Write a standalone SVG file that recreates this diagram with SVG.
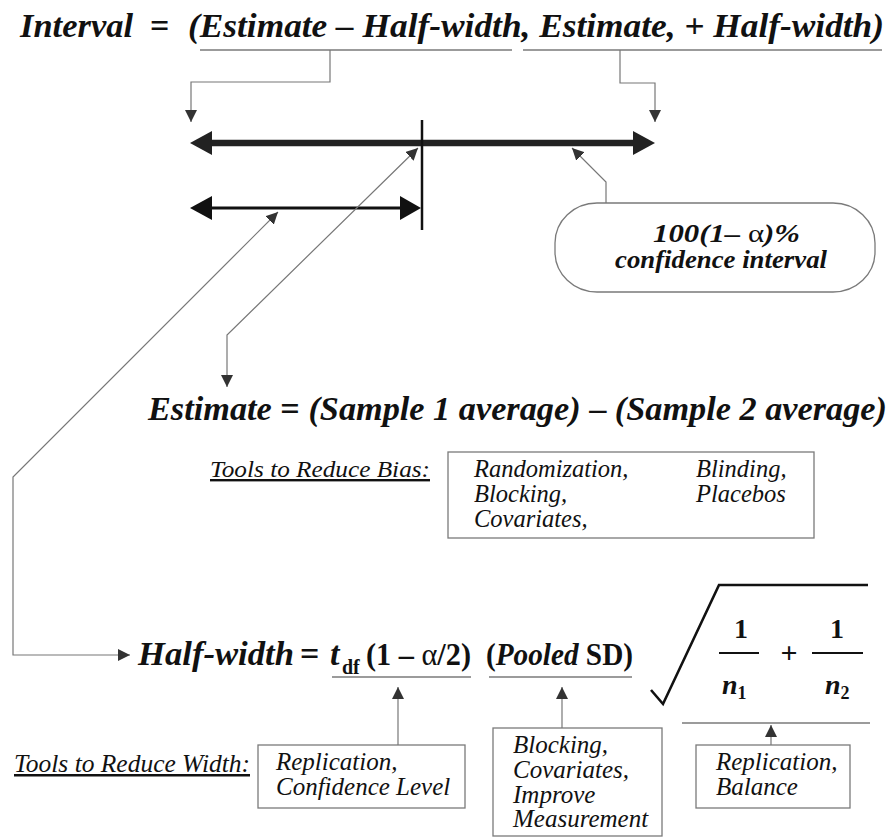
<svg xmlns="http://www.w3.org/2000/svg" width="892" height="837" viewBox="0 0 892 837">
<defs>
<style>
.t{font-family:"Liberation Serif","Times New Roman",serif;fill:#111}
.bi{font-weight:bold;font-style:italic}
.b{font-weight:bold;font-style:normal}
.i{font-style:italic;font-weight:normal}
.n{font-style:normal;font-weight:normal}
.ul{stroke:#7a7a7a;stroke-width:1.3;fill:none}
.box{stroke:#7a7a7a;stroke-width:1.3;fill:none}
.con{stroke:#777;stroke-width:1.2;fill:none}
</style>
<marker id="ah" viewBox="0 0 10 10" refX="10" refY="5" markerWidth="12" markerHeight="12" markerUnits="userSpaceOnUse" orient="auto-start-reverse">
<path d="M0,0 L10,5 L0,10 z" fill="#333"/>
</marker>
</defs>
<rect width="892" height="837" fill="#fff"/>

<g id="title">
<text class="t bi" x="20" y="37" font-size="34" textLength="113" lengthAdjust="spacingAndGlyphs">Interval</text>
<text class="t b" x="150" y="37" font-size="34">=</text>
<text class="t bi" x="188" y="37" font-size="34" textLength="696" lengthAdjust="spacingAndGlyphs">(Estimate – Half-width, Estimate, + Half-width)</text>
<line class="ul" x1="200" y1="50" x2="512" y2="50"/>
<line class="ul" x1="523" y1="50" x2="882" y2="50"/>
</g>

<g id="interval-arrows">
<line x1="208" y1="143" x2="637" y2="143" stroke="#222" stroke-width="6.5"/>
<polygon points="190,143 212,131 212,155" fill="#222"/>
<polygon points="655,143 633,131 633,155" fill="#222"/>
<line x1="422" y1="120" x2="422" y2="230" stroke="#111" stroke-width="2.5"/>
<line x1="205" y1="208" x2="405" y2="208" stroke="#111" stroke-width="2.8"/>
<polygon points="190,208 212,196 212,220" fill="#111"/>
<polygon points="421,208 400,196 400,220" fill="#111"/>
</g>

<g id="ci-bubble">
<rect class="box" x="555" y="203" width="320" height="89" rx="42" ry="40"/>
<text class="t bi" x="653" y="242" font-size="26" textLength="147" lengthAdjust="spacingAndGlyphs">100(1– <tspan class="n">α</tspan>)%</text>
<text class="t bi" x="615" y="268" font-size="26" textLength="212" lengthAdjust="spacingAndGlyphs">confidence interval</text>
</g>

<g id="estimate">
<text class="t bi" x="148" y="420" font-size="34" textLength="739" lengthAdjust="spacingAndGlyphs">Estimate <tspan class="b">=</tspan> (Sample 1 average) <tspan class="b">–</tspan> (Sample 2 average)</text>
</g>

<g id="bias-tools">
<text class="t i" x="210" y="477" font-size="24" textLength="220" lengthAdjust="spacingAndGlyphs" text-decoration="underline">Tools to Reduce Bias:</text>
<rect class="box" x="448" y="452" width="366" height="86"/>
<text class="t i" font-size="24.5">
<tspan x="474" y="477">Randomization,</tspan>
<tspan x="474" y="502">Blocking,</tspan>
<tspan x="474" y="527">Covariates,</tspan>
<tspan x="696" y="477">Blinding,</tspan>
<tspan x="696" y="502">Placebos</tspan>
</text>
</g>

<g id="halfwidth">
<text class="t bi" x="138" y="665" font-size="34" textLength="156" lengthAdjust="spacingAndGlyphs">Half-width</text>
<text class="t b" x="300" y="665" font-size="34">=</text>
<text class="t bi" x="330" y="665" font-size="34">t</text>
<text class="t b" x="342" y="674" font-size="20">df</text>
<text class="t b" x="366" y="665" font-size="32" textLength="105" lengthAdjust="spacingAndGlyphs">(1 – <tspan class="n">α</tspan>/2)</text>
<text class="t b" x="486" y="665" font-size="32" textLength="147" lengthAdjust="spacingAndGlyphs">(<tspan class="bi">Pooled</tspan> SD)</text>
<line class="ul" x1="332" y1="677" x2="471" y2="677"/>
<line class="ul" x1="489" y1="677" x2="632" y2="677"/>
</g>

<g id="sqrt-term">
<path d="M651,690 L663,704 L719,585 L868,585" fill="none" stroke="#111" stroke-width="2.6"/>
<text class="t b" x="741" y="638" font-size="28" text-anchor="middle">1</text>
<line x1="719" y1="653" x2="759" y2="653" stroke="#111" stroke-width="2"/>
<text class="t b" x="789" y="663" font-size="30" text-anchor="middle">+</text>
<text class="t b" x="837" y="638" font-size="28" text-anchor="middle">1</text>
<line x1="812" y1="653" x2="863" y2="653" stroke="#111" stroke-width="2"/>
<text class="t bi" x="722" y="694" font-size="28">n<tspan class="b" font-size="18" dy="5">1</tspan></text>
<text class="t bi" x="825" y="694" font-size="28">n<tspan class="b" font-size="18" dy="5">2</tspan></text>
<line class="ul" x1="682" y1="723" x2="870" y2="723"/>
</g>

<g id="width-tools">
<text class="t i" x="14" y="772" font-size="25" textLength="236" lengthAdjust="spacingAndGlyphs" text-decoration="underline">Tools to Reduce Width:</text>
</g>

<g id="box-tdf">
<rect class="box" x="258" y="745" width="207" height="63"/>
<text class="t i" font-size="25"><tspan x="276" y="770">Replication,</tspan><tspan x="276" y="795">Confidence Level</tspan></text>
</g>

<g id="box-sd">
<rect class="box" x="493" y="728" width="169" height="108"/>
<text class="t i" font-size="25"><tspan x="513" y="753">Blocking,</tspan><tspan x="513" y="778">Covariates,</tspan><tspan x="513" y="803">Improve</tspan><tspan x="513" y="827">Measurement</tspan></text>
</g>

<g id="box-n">
<rect class="box" x="696" y="745" width="154" height="63"/>
<text class="t i" font-size="25"><tspan x="716" y="770">Replication,</tspan><tspan x="716" y="795">Balance</tspan></text>
</g>

<g id="connectors">
<polyline class="con" points="330,50 330,82 191,82 191,122" marker-end="url(#ah)"/>
<polyline class="con" points="620,50 620,83 655,83 655,122" marker-end="url(#ah)"/>
<polyline class="con" points="606,203 606,182 572,148" marker-end="url(#ah)"/>
<polyline class="con" points="418,148 227,335 227,387" marker-start="url(#ah)" marker-end="url(#ah)"/>
<polyline class="con" points="278,212 13,477 13,655 130,655" marker-start="url(#ah)" marker-end="url(#ah)"/>
<line class="con" x1="398" y1="745" x2="398" y2="687" marker-end="url(#ah)"/>
<line class="con" x1="562" y1="728" x2="562" y2="687" marker-end="url(#ah)"/>
<line class="con" x1="771" y1="745" x2="771" y2="725" marker-end="url(#ah)"/>
</g>
</svg>
